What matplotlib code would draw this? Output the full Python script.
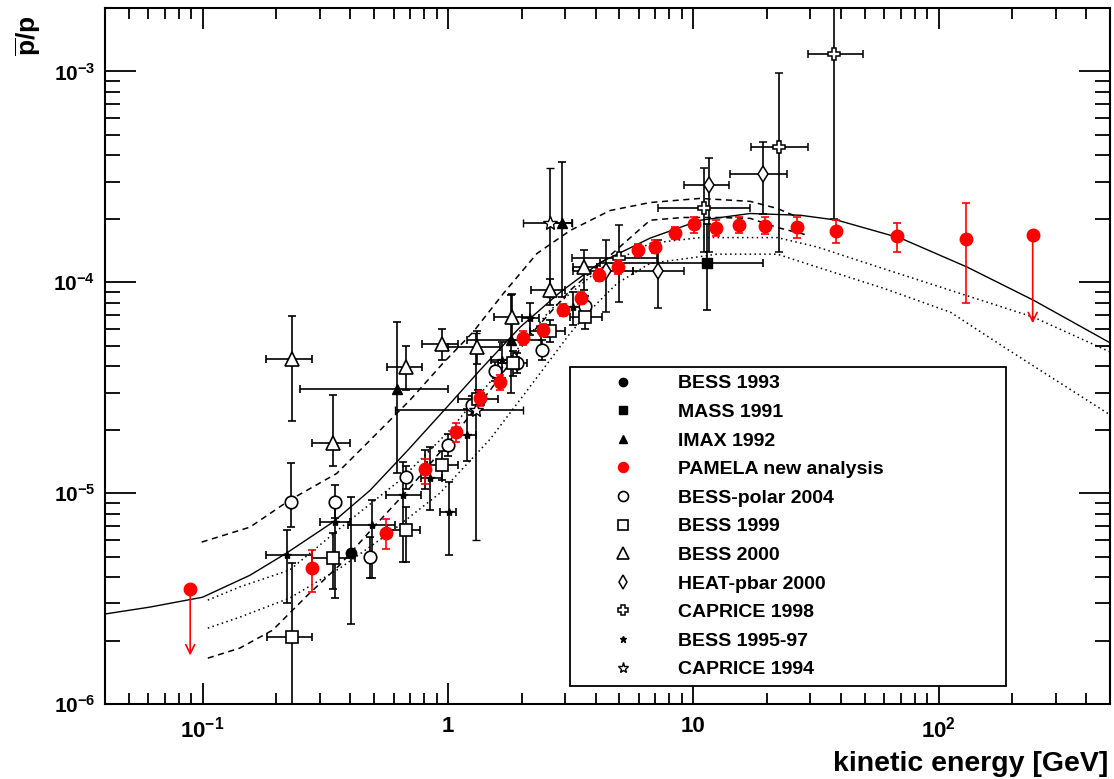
import numpy as np
import matplotlib
matplotlib.use('Agg')
import matplotlib.pyplot as plt
from matplotlib.lines import Line2D

plt.rcParams['font.family'] = ['Liberation Sans', 'DejaVu Sans']
plt.rcParams['font.weight'] = 'bold'
plt.rcParams['mathtext.fontset'] = 'custom'
plt.rcParams['mathtext.rm'] = 'Liberation Sans:bold'
plt.rcParams['mathtext.it'] = 'Liberation Sans:bold'
plt.rcParams['mathtext.bf'] = 'Liberation Sans:bold'

# ── Model curves (E [GeV], pbar/p) ───────────────────────────────────────────
solid_E = [0.0398, 0.0608, 0.1, 0.156, 0.22, 0.34, 0.481, 0.687, 0.991, 1.351,
           1.967, 2.866, 4.17, 6.67, 10.68, 17.09, 27.33, 38.7, 70.0, 131.0,
           244.0, 504.0]
solid_R = [2.67e-6, 2.88e-6, 3.21e-6, 4.08e-6, 5.2e-6, 7.29e-6, 1.03e-5, 1.6e-5,
           2.56e-5, 3.83e-5, 6.12e-5, 8.97e-5, 1.24e-4, 1.62e-4, 1.97e-4, 2.12e-4,
           2.08e-4, 1.97e-4, 1.62e-4, 1.18e-4, 8.22e-5, 5.14e-5]

dash_hi_E = [0.0991, 0.156, 0.2265, 0.352, 0.481, 0.70, 0.954, 1.265, 1.676,
             2.307, 3.148, 4.58, 6.67, 10.68, 17.09, 22.02, 26.08]
dash_hi_R = [5.86e-6, 6.9e-6, 9.27e-6, 1.24e-5, 1.78e-5, 2.76e-5, 4.13e-5, 5.8e-5,
             8.8e-5, 1.37e-4, 1.76e-4, 2.19e-4, 2.39e-4, 2.5e-4, 2.42e-4, 2.24e-4,
             2.06e-4]

dash_lo_E = [0.105, 0.1416, 0.193, 0.2656, 0.362, 0.494, 0.70, 1.019, 1.484,
             2.161, 3.148, 4.58, 6.67, 9.1, 12.53, 17.09, 22.02, 29.5]
dash_lo_R = [1.65e-6, 1.84e-6, 2.24e-6, 3.25e-6, 4.56e-6, 6.83e-6, 1.06e-5, 1.78e-5,
             3.07e-5, 5.61e-5, 9.16e-5, 1.34e-4, 1.97e-4, 2.03e-4, 2.03e-4, 2.01e-4,
             1.82e-4, 1.67e-4]

dot_hi_E = [0.105, 0.1416, 0.2265, 0.398, 0.637, 1.019, 1.63, 2.609, 4.17, 6.67,
            10.68, 22.02, 32.07, 59.7, 111.9, 244.2, 503.6]
dot_hi_R = [3.11e-6, 3.59e-6, 4.32e-6, 7.44e-6, 1.15e-5, 1.99e-5, 3.83e-5, 7.37e-5,
            1.16e-4, 1.53e-4, 1.63e-4, 1.63e-4, 1.47e-4, 1.16e-4, 9.16e-5, 6.83e-5,
            4.66e-5]

dot_lo_E = [0.105, 0.1416, 0.2265, 0.362, 0.58, 0.927, 1.484, 2.161, 3.148, 3.8,
            4.9, 6.67, 10.0, 12.53, 22.02, 32.07, 59.7, 111.9, 193.1, 503.6]
dot_lo_R = [2.29e-6, 2.58e-6, 3.18e-6, 4.4e-6, 6.5e-6, 1.0e-5, 1.8e-5, 3.2e-5,
            5.73e-5, 7.37e-5, 9.9e-5, 1.23e-4, 1.31e-4, 1.36e-4, 1.36e-4, 1.18e-4,
            9.37e-5, 7.21e-5, 4.77e-5, 2.34e-5]

# ── Experimental data: value, lower / upper end of error bars ────────────────
bess93_E = [0.402, 0.805]
bess93_R = [5.2e-6, 1.30e-5]
bess93_lo = [2.39e-6, 1.05e-5]
bess93_hi = [9.57e-6, 1.6e-5]

mass_E = [11.4]
mass_R = [1.23e-4]
mass_lo = [7.36e-5]
mass_hi = [1.9e-4]
mass_Elo = [4.17]
mass_Ehi = [19.3]

imax_E = [0.62, 1.81, 2.92]
imax_R = [3.11e-5, 5.3e-5, 1.92e-4]
imax_lo = [1.24e-5, 2.98e-5, 8.5e-5]
imax_hi = [6.45e-5, 8.68e-5, 3.74e-4]
imax_Elo = [0.25, 1.2, 2.6]
imax_Ehi = [1.0, 2.4, 3.2]

pam_E = [0.279, 0.558, 0.805, 1.08, 1.35, 1.63, 2.02, 2.44, 2.95, 3.49, 4.13,
         4.94, 5.97, 7.0, 8.44, 10.1, 12.4, 15.3, 19.7, 26.6, 38.3, 68.0, 129.0]
pam_R = [4.42e-6, 6.46e-6, 1.30e-5, 1.94e-5, 2.82e-5, 3.36e-5, 5.43e-5, 5.93e-5,
         7.36e-5, 8.4e-5, 1.08e-4, 1.18e-4, 1.42e-4, 1.47e-4, 1.71e-4, 1.9e-4,
         1.8e-4, 1.88e-4, 1.84e-4, 1.82e-4, 1.75e-4, 1.65e-4, 1.6e-4]
pam_lo = [3.4e-6, 5.43e-6, 1.1e-5, 1.75e-5, 2.6e-5, 3.1e-5, 5.05e-5, 5.55e-5,
          6.9e-5, 7.85e-5, 1.01e-4, 1.1e-4, 1.33e-4, 1.37e-4, 1.6e-4, 1.72e-4,
          1.65e-4, 1.72e-4, 1.7e-4, 1.63e-4, 1.53e-4, 1.4e-4, 7.95e-5]
pam_hi = [5.37e-6, 7.5e-6, 1.45e-5, 2.15e-5, 3.05e-5, 3.65e-5, 5.85e-5, 6.35e-5,
          7.85e-5, 9.0e-5, 1.16e-4, 1.27e-4, 1.52e-4, 1.58e-4, 1.82e-4, 2.03e-4,
          1.97e-4, 2.03e-4, 2.03e-4, 2.03e-4, 1.97e-4, 1.92e-4, 2.39e-4]
pam_ul_E = [0.089, 242.0]
pam_ul_R = [3.5e-6, 1.67e-4]
pam_ul_to = [1.7e-6, 6.4e-5]

bpol_E = [0.229, 0.346, 0.48, 0.674, 1.0, 1.25, 1.56, 1.91, 2.42, 3.62]
bpol_R = [9.06e-6, 9.06e-6, 4.98e-6, 1.19e-5, 1.69e-5, 2.61e-5, 3.79e-5, 4.13e-5,
          4.77e-5, 7.69e-5]
bpol_lo = [6.9e-6, 7.6e-6, 3.95e-6, 1.05e-5, 1.5e-5, 2.35e-5, 3.4e-5, 3.7e-5,
           4.3e-5, 6.9e-5]
bpol_hi = [1.39e-5, 1.09e-5, 6.2e-6, 1.35e-5, 1.9e-5, 2.9e-5, 4.2e-5, 4.6e-5,
           5.3e-5, 8.6e-5]

b99_E = [0.231, 0.34, 0.674, 0.945, 1.33, 1.84, 2.61, 3.62]
b99_R = [2.08e-6, 4.92e-6, 6.68e-6, 1.36e-5, 2.8e-5, 4.13e-5, 5.86e-5, 6.83e-5]
b99_lo = [4e-7, 3.5e-6, 4.7e-6, 1.15e-5, 2.5e-5, 3.6e-5, 5.2e-5, 6.0e-5]
b99_hi = [4.66e-6, 6.5e-6, 8.6e-6, 1.58e-5, 3.1e-5, 4.7e-5, 6.6e-5, 7.7e-5]
b99_Elo = [0.183, 0.279, 0.564, 0.82, 1.1, 1.6, 2.16, 3.15]
b99_Ehi = [0.279, 0.417, 0.77, 1.1, 1.6, 2.1, 3.0, 4.25]

b00_E = [0.231, 0.34, 0.674, 0.945, 1.31, 1.82, 2.61, 3.59]
b00_R = [4.32e-5, 1.73e-5, 3.95e-5, 5.08e-5, 4.92e-5, 6.83e-5, 9.16e-5, 1.18e-4]
b00_lo = [2.19e-5, 1.35e-5, 3.07e-5, 4.26e-5, 4.1e-5, 5.3e-5, 7.8e-5, 9.2e-5]
b00_hi = [6.9e-5, 2.91e-5, 4.98e-5, 5.98e-5, 5.9e-5, 8.8e-5, 1.04e-4, 1.43e-4]
b00_Elo = [0.181, 0.279, 0.564, 0.783, 1.0, 1.54, 2.18, 3.24]
b00_Ehi = [0.279, 0.40, 0.783, 1.10, 1.63, 2.16, 3.0, 4.06]

heat_E = [4.41, 7.19, 11.6, 19.3]
heat_R = [1.13e-4, 1.13e-4, 2.91e-4, 3.25e-4]
heat_lo = [7.21e-5, 7.54e-5, 1.39e-4, 2.12e-4]
heat_hi = [1.58e-4, 1.58e-4, 3.87e-4, 4.61e-4]
heat_Elo = [3.25, 5.7, 9.19, 14.1]
heat_Ehi = [5.7, 9.2, 14.0, 24.2]

cap98_E = [4.99, 11.1, 22.4, 37.6]
cap98_R = [1.31e-4, 2.26e-4, 4.37e-4, 1.21e-3]
cap98_lo = [8.04e-5, 1.39e-4, 1.39e-4, 1.99e-4]
cap98_hi = [1.88e-4, 3.47e-4, 9.8e-4, 3.0e-3]
cap98_Elo = [3.21, 7.19, 17.2, 29.5]
cap98_Ehi = [7.1, 17.1, 29.5, 49.4]

b9597_E = [0.22, 0.346, 0.49, 0.655, 0.845, 1.01, 1.2, 1.66, 2.16, 3.24]
b9597_R = [5.08e-6, 7.3e-6, 7.05e-6, 9.8e-6, 1.18e-5, 8.13e-6, 1.88e-5, 4.26e-5,
           6.75e-5, 7.6e-5]
b9597_lo = [3.0e-6, 3.18e-6, 3.95e-6, 4.7e-6, 8.3e-6, 5.1e-6, 1.42e-5, 3.5e-5,
            5.6e-5, 6.3e-5]
b9597_hi = [6.7e-6, 9.3e-6, 9.3e-6, 1.4e-5, 1.65e-5, 1.13e-5, 2.5e-5, 5.2e-5,
            8.0e-5, 9.0e-5]
b9597_Elo = [0.181, 0.30, 0.39, 0.56, 0.78, 0.93, 1.1, 1.5, 2.0, 3.0]
b9597_Ehi = [0.279, 0.40, 0.61, 0.78, 0.95, 1.08, 1.3, 1.8, 2.35, 3.5]

cap94_E = [1.30, 2.61]
cap94_R = [2.47e-5, 1.92e-4]
cap94_lo = [5.98e-6, 8.5e-5]
cap94_hi = [5.73e-5, 3.47e-4]
cap94_Elo = [0.61, 2.02]
cap94_Ehi = [2.02, 3.21]

labels = ['BESS 1993', 'MASS 1991', 'IMAX 1992', 'PAMELA new analysis',
          'BESS-polar 2004', 'BESS 1999', 'BESS 2000', 'HEAT-pbar 2000',
          'CAPRICE 1998', 'BESS 1995-97', 'CAPRICE 1994']

xticks = [0.1, 1, 10, 100]
xticklabels = ['$10^{-1}$', '1', '10', '$10^{2}$']
yticks = [1e-6, 1e-5, 1e-4, 1e-3]
yticklabels = ['$10^{-6}$', '$10^{-5}$', '$10^{-4}$', '$10^{-3}$']

# ── Figure ───────────────────────────────────────────────────────────────────
fig = plt.figure(figsize=(11.14, 7.79), dpi=100)
ax = fig.add_axes([105 / 1114, 75 / 779, 1005 / 1114, 696 / 779])
ax.set_xscale('log')
ax.set_yscale('log')
ax.set_xlim(0.04, 500)
ax.set_ylim(1e-6, 2e-3)

ax.plot(solid_E, solid_R, color='k', lw=1.0, zorder=1)
ax.plot(dash_hi_E, dash_hi_R, color='k', lw=1.1, ls=(0, (4, 3)), zorder=1)
ax.plot(dash_lo_E, dash_lo_R, color='k', lw=1.1, ls=(0, (4, 3)), zorder=1)
ax.plot(dot_hi_E, dot_hi_R, color='k', lw=1.1, ls=(0, (1, 2.2)), zorder=1)
ax.plot(dot_lo_E, dot_lo_R, color='k', lw=1.1, ls=(0, (1, 2.2)), zorder=1)


def errs(v, lo, hi):
    v, lo, hi = np.asarray(v), np.asarray(lo), np.asarray(hi)
    return [v - lo, hi - v]


styles = {
    'BESS 1993': dict(marker='o', ms=7.5, mfc='k', mec='k'),
    'MASS 1991': dict(marker='s', ms=7.5, mfc='k', mec='k'),
    'IMAX 1992': dict(marker='^', ms=7, mfc='k', mec='k'),
    'PAMELA new analysis': dict(marker='o', ms=9, mfc='red', mec='red'),
    'BESS-polar 2004': dict(marker='o', ms=9, mfc='white', mec='k', mew=1.2),
    'BESS 1999': dict(marker='s', ms=9, mfc='white', mec='k', mew=1.2),
    'BESS 2000': dict(marker='^', ms=10, mfc='white', mec='k', mew=1.2),
    'HEAT-pbar 2000': dict(marker='d', ms=8.5, mfc='white', mec='k', mew=1.1),
    'CAPRICE 1998': dict(marker='P', ms=9, mfc='white', mec='k', mew=1.1),
    'BESS 1995-97': dict(marker='*', ms=6, mfc='k', mec='k'),
    'CAPRICE 1994': dict(marker='*', ms=10, mfc='white', mec='k', mew=1.0),
}
eb = dict(ls='none', ecolor='k', elinewidth=1.2, capsize=3, capthick=1.2, zorder=3)

ax.errorbar(bess93_E, bess93_R, yerr=errs(bess93_R, bess93_lo, bess93_hi),
            **styles['BESS 1993'], **eb)
ax.errorbar(mass_E, mass_R, yerr=errs(mass_R, mass_lo, mass_hi),
            xerr=errs(mass_E, mass_Elo, mass_Ehi), **styles['MASS 1991'], **eb)
ax.errorbar(imax_E, imax_R, yerr=errs(imax_R, imax_lo, imax_hi),
            xerr=errs(imax_E, imax_Elo, imax_Ehi), **styles['IMAX 1992'], **eb)
ax.errorbar(pam_E, pam_R, yerr=errs(pam_R, pam_lo, pam_hi),
            ls='none', ecolor='red', elinewidth=1.2, capsize=3, capthick=1.2,
            zorder=4, **styles['PAMELA new analysis'])
ax.plot(pam_ul_E, pam_ul_R, ls='none', zorder=4, **styles['PAMELA new analysis'])
for e, r, t in zip(pam_ul_E, pam_ul_R, pam_ul_to):
    ax.annotate('', xy=(e, t), xytext=(e, r),
                arrowprops=dict(arrowstyle='->', color='red', lw=1.2,
                                shrinkA=0, shrinkB=0, mutation_scale=16),
                zorder=4)
ax.errorbar(bpol_E, bpol_R, yerr=errs(bpol_R, bpol_lo, bpol_hi),
            **styles['BESS-polar 2004'], **eb)
ax.errorbar(b99_E, b99_R, yerr=errs(b99_R, b99_lo, b99_hi),
            xerr=errs(b99_E, b99_Elo, b99_Ehi), **styles['BESS 1999'], **eb)
ax.errorbar(b00_E, b00_R, yerr=errs(b00_R, b00_lo, b00_hi),
            xerr=errs(b00_E, b00_Elo, b00_Ehi), **styles['BESS 2000'], **eb)
ax.errorbar(heat_E, heat_R, yerr=errs(heat_R, heat_lo, heat_hi),
            xerr=errs(heat_E, heat_Elo, heat_Ehi), **styles['HEAT-pbar 2000'], **eb)
ax.errorbar(cap98_E, cap98_R, yerr=errs(cap98_R, cap98_lo, cap98_hi),
            xerr=errs(cap98_E, cap98_Elo, cap98_Ehi), **styles['CAPRICE 1998'], **eb)
ax.errorbar(b9597_E, b9597_R, yerr=errs(b9597_R, b9597_lo, b9597_hi),
            xerr=errs(b9597_E, b9597_Elo, b9597_Ehi), **styles['BESS 1995-97'], **eb)
ax.errorbar(cap94_E, cap94_R, yerr=errs(cap94_R, cap94_lo, cap94_hi),
            xerr=errs(cap94_E, cap94_Elo, cap94_Ehi), **styles['CAPRICE 1994'], **eb)

# ── Axes styling (ROOT look) ─────────────────────────────────────────────────
for s in ax.spines.values():
    s.set_linewidth(1.5)
ax.set_xticks(xticks)
ax.set_xticklabels(xticklabels)
ax.set_yticks(yticks)
ax.set_yticklabels(yticklabels)
ax.tick_params(which='both', direction='in', top=True, right=True, width=1.3)
ax.tick_params(axis='x', which='major', length=15, labelsize=16, pad=9)
ax.tick_params(axis='x', which='minor', length=8)
ax.tick_params(axis='y', which='major', length=22, labelsize=15, pad=7)
ax.tick_params(axis='y', which='minor', length=11)
ax.xaxis.set_minor_formatter(matplotlib.ticker.NullFormatter())
ax.yaxis.set_minor_formatter(matplotlib.ticker.NullFormatter())

fig.text(1108 / 1114, 2 / 779, 'kinetic energy [GeV]', ha='right', va='bottom',
         fontsize=20.5, fontweight='bold')
fig.text(28 / 1114, 1 - 16 / 779, r'$\overline{\mathrm{p}}\mathrm{/p}$',
         rotation=90, ha='center', va='top', fontsize=19)

# ── Legend ───────────────────────────────────────────────────────────────────
handles = []
for lab in labels:
    st = dict(styles[lab])
    st['ms'] = st['ms'] * 0.8
    handles.append(Line2D([], [], ls='none', **st))
leg = ax.legend(handles, labels, loc='upper left',
                bbox_to_anchor=(465 / 1005, 0.0, 436 / 1005, 337 / 696),
                mode='expand', borderaxespad=0, fancybox=False, framealpha=1,
                edgecolor='k', prop=dict(weight='bold', size=14),
                handlelength=4.66, handletextpad=0.5, borderpad=0.4,
                labelspacing=0.565)
leg.get_frame().set_linewidth(1.3)

fig.savefig('out.png', dpi=100)
